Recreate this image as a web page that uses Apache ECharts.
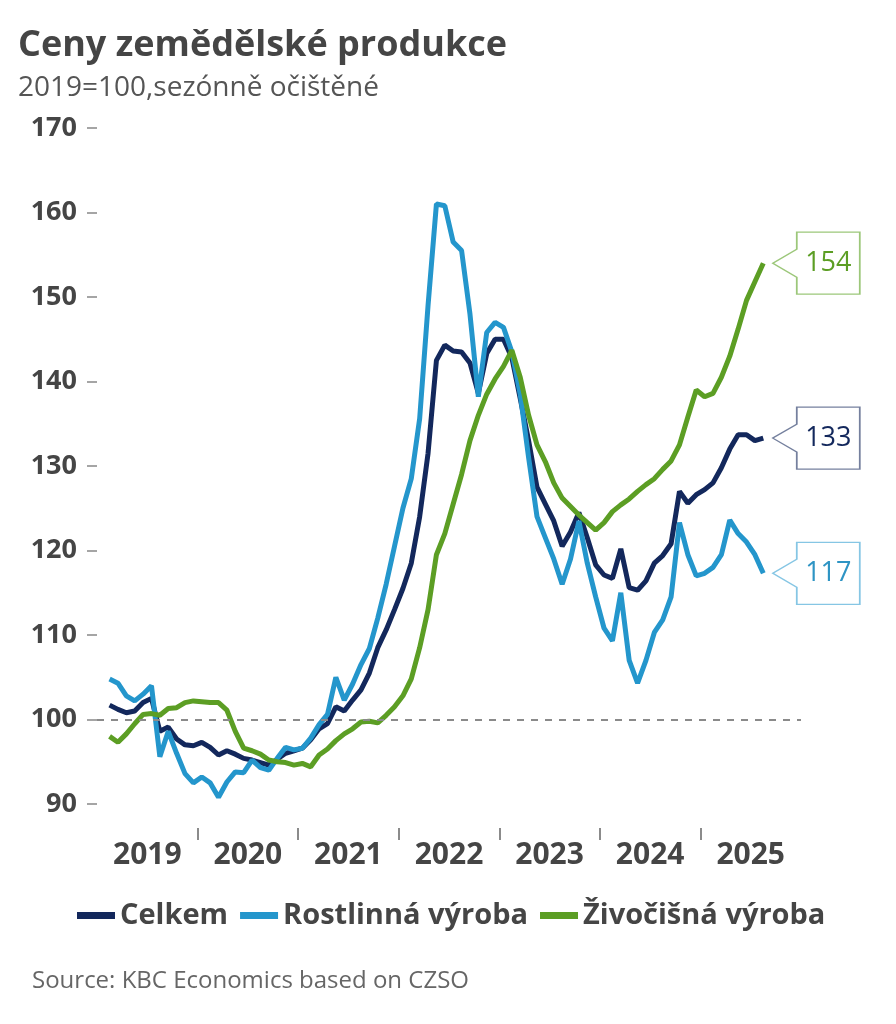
<!DOCTYPE html>
<html>
<head>
<meta charset="utf-8">
<script src="https://cdn.jsdelivr.net/npm/echarts@6/dist/echarts.min.js"></script>
<style>
  html, body { margin: 0; padding: 0; background: #fff; }
  #main { width: 896px; height: 1024px; }
</style>
</head>
<body>
<div id="main"></div>
<script>
// Monthly values, Feb 2019 .. Aug 2025 (2019 = 100, seasonally adjusted)
const startYear = 2019;
const months = [];
for (let k = 1; k <= 79; k++) {
  months.push((startYear + Math.floor(k / 12)) + '-' + String(k % 12 + 1).padStart(2, '0'));
}

const celkem = [
  101.7, 101.2, 100.8, 101.0, 102.0, 102.5, 98.6, 99.1, 97.7, 97.0, 96.9,
  97.3, 96.7, 95.8, 96.3, 95.9, 95.4, 95.2, 94.9, 94.6, 95.3, 96.0, 96.3,
  96.6, 97.6, 98.9, 99.5, 101.5, 101.0, 102.3, 103.5, 105.5, 108.5, 110.6, 113.0,
  115.5, 118.5, 124.0, 131.5, 142.5, 144.3, 143.6, 143.5, 142.2, 138.6, 143.3, 145.0,
  145.0, 142.8, 138.0, 133.0, 127.5, 125.5, 123.5, 120.5, 122.2, 124.5, 121.5, 118.3,
  117.1, 116.7, 120.2, 115.6, 115.3, 116.4, 118.5, 119.4, 120.8, 127.0, 125.6, 126.6,
  127.2, 128.0, 129.8, 132.0, 133.7, 133.7, 133.0, 133.3
];
const rostlinna = [
  104.8, 104.3, 102.8, 102.2, 103.0, 104.0, 95.6, 98.6, 96.0, 93.6, 92.5,
  93.2, 92.5, 90.8, 92.6, 93.8, 93.7, 95.2, 94.3, 94.0, 95.4, 96.7, 96.4,
  96.6, 97.8, 99.4, 100.6, 105.0, 102.3, 104.2, 106.5, 108.4, 112.0, 116.0, 120.5,
  125.0, 128.5, 135.6, 149.0, 161.0, 160.8, 156.5, 155.5, 148.0, 138.2, 145.8, 147.0,
  146.4, 143.5, 138.5, 131.0, 124.0, 121.5, 119.0, 116.0, 119.0, 123.5, 118.5, 114.5,
  110.8, 109.3, 115.0, 107.0, 104.3, 107.0, 110.3, 111.8, 114.5, 123.3, 119.5, 117.0,
  117.3, 118.0, 119.5, 123.6, 122.0, 121.0, 119.5, 117.3
];
const zivocisna = [
  98.0, 97.3, 98.3, 99.5, 100.6, 100.7, 100.5, 101.3, 101.4, 102.0, 102.2,
  102.1, 102.0, 102.0, 101.1, 98.6, 96.6, 96.3, 95.9, 95.2, 95.0, 94.9, 94.6,
  94.8, 94.4, 95.8, 96.5, 97.5, 98.3, 98.9, 99.7, 99.8, 99.6, 100.5, 101.5,
  102.8, 104.8, 108.5, 113.0, 119.5, 122.0, 125.5, 129.0, 133.0, 136.0, 138.5, 140.3,
  141.8, 143.7, 140.5, 136.0, 132.5, 130.5, 128.0, 126.2, 125.2, 124.2, 123.3, 122.4,
  123.3, 124.6, 125.4, 126.1, 127.0, 127.8, 128.5, 129.6, 130.6, 132.5, 135.8, 139.0,
  138.2, 138.6, 140.5, 143.0, 146.2, 149.6, 151.8, 154.0
];

const years = ['2019', '2020', '2021', '2022', '2023', '2024', '2025'];
const yTicks = [90, 100, 110, 120, 130, 140, 150, 160, 170];

// month string -> position on the x axis (0 = start of Jan 2019, centre of month)
function monthPos(m) {
  const [y, mo] = m.split('-').map(Number);
  return (y - startYear) * 12 + (mo - 1) + 0.5;
}
function toPairs(values) {
  return values.map((v, i) => [monthPos(months[i]), v]);
}

const textColor = '#454545';
const font = '"Open Sans", "Noto Sans", sans-serif';

function callout(values, border, color) {
  const last = values.length - 1;
  return {
    symbol: 'path://M24,0 L87,0 L87,62 L24,62 L24,45 L0,31 L24,17 Z',
    symbolSize: [87, 62],
    symbolOffset: [53, 0],
    itemStyle: { color: '#fff', borderColor: border, borderWidth: 1.5 },
    label: {
      show: true, position: 'inside', offset: [12, 0],
      color: color, fontSize: 27, fontFamily: font,
      formatter: (p) => String(Math.round(p.value))
    },
    silent: true,
    data: [{ coord: [monthPos(months[last]), values[last]], value: values[last] }]
  };
}

let myChart = echarts.init(document.getElementById('main'));

let options = {
  backgroundColor: '#fff',
  animation: false,
  title: [
    {
      text: 'Ceny zemědělské produkce',
      subtext: '2019=100,sezónně očištěné',
      left: 13, top: 23, itemGap: 10,
      textStyle: { fontSize: 36, fontWeight: 'bold', color: textColor, fontFamily: font },
      subtextStyle: { fontSize: 28, color: '#555', fontFamily: font }
    },
    {
      text: 'Source: KBC Economics based on CZSO',
      left: 27, top: 964,
      textStyle: { fontSize: 24, fontWeight: 'normal', color: '#666', fontFamily: font }
    }
  ],
  legend: {
    left: 72, top: 896,
    icon: 'rect', itemWidth: 38, itemHeight: 7, itemGap: 12,
    textStyle: { fontSize: 29, fontWeight: 'bold', color: textColor, fontFamily: font },
    data: ['Celkem', 'Rostlinná výroba', 'Živočišná výroba']
  },
  grid: { left: 97, right: 95, top: 128, bottom: 220 },
  xAxis: {
    type: 'value', min: 0, max: 84, offset: 24,
    axisLine: { show: false },
    splitLine: { show: false },
    axisTick: {
      show: true, length: 12,
      customValues: years.slice(1).map((y, i) => (i + 1) * 12),
      lineStyle: { color: '#666', width: 1.5 }
    },
    axisLabel: {
      customValues: years.map((y, i) => i * 12 + 6),
      formatter: (v) => years[Math.floor(v / 12)],
      fontSize: 30, fontWeight: 'bold', color: textColor, fontFamily: font, margin: 12
    }
  },
  yAxis: {
    type: 'value', min: yTicks[0], max: yTicks[yTicks.length - 1], interval: 10,
    axisLine: { show: false },
    splitLine: { show: false },
    axisTick: { show: true, length: 10, lineStyle: { color: '#888', width: 1.5 } },
    axisLabel: { fontSize: 27, fontWeight: 'bold', color: textColor, fontFamily: font, margin: 20 }
  },
  series: [
    {
      name: 'Celkem', type: 'line', data: toPairs(celkem),
      showSymbol: false, color: '#13285c',
      lineStyle: { width: 5 },
      markLine: {
        silent: true, symbol: ['none', 'none'], label: { show: false },
        lineStyle: { color: '#8a8a8a', type: [7, 7], width: 2 },
        data: [{ yAxis: 100 }]
      },
      markPoint: callout(celkem, '#75809e', '#13285c')
    },
    {
      name: 'Rostlinná výroba', type: 'line', data: toPairs(rostlinna),
      showSymbol: false, color: '#2496cc',
      lineStyle: { width: 5 },
      markPoint: callout(rostlinna, '#86c6e4', '#2e94c4')
    },
    {
      name: 'Živočišná výroba', type: 'line', data: toPairs(zivocisna),
      showSymbol: false, color: '#5c9e24',
      lineStyle: { width: 5 },
      markPoint: callout(zivocisna, '#9cc77a', '#5c9e24')
    }
  ]
};
myChart.setOption(options);
</script>
</body>
</html>
